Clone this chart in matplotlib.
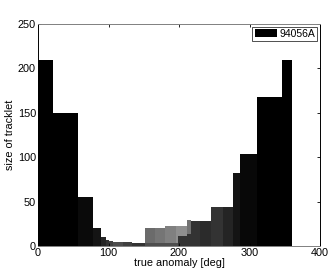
import matplotlib
matplotlib.use("Agg")
import matplotlib.pyplot as plt
from matplotlib.patches import Patch

plt.rcParams['font.family'] = ['Liberation Sans', 'DejaVu Sans']

# tracklet bars: left edge, right edge [deg], size, gray level
left = [0, 21, 57, 78, 90, 96, 101, 107, 120, 133, 152, 166, 180, 196, 211, 217, 230, 246, 262, 277, 287, 311, 346]
right = [21, 57, 78, 90, 96, 101, 107, 120, 133, 152, 166, 180, 196, 211, 217, 230, 246, 262, 277, 287, 311, 346, 360]
size = [210, 150, 55, 20, 10, 7, 5.5, 4.5, 4.5, 3, 20.5, 20.5, 23, 23, 29, 28.5, 28.5, 44, 44, 82.5, 104, 168, 210]
gray = [0.0, 0.0, 0.04, 0.08, 0.15, 0.2, 0.25, 0.3, 0.25, 0.2, 0.42, 0.46, 0.5, 0.56, 0.45, 0.2, 0.17, 0.2, 0.14, 0.08, 0.03, 0.0, 0.0]

# smaller tracklets drawn on top
ov_left = [152, 198, 211]
ov_right = [198, 211, 220]
ov_size = [3, 11, 14]
ov_gray = [0.3, 0.2, 0.2]

fig = plt.figure(figsize=(3.32, 2.74), dpi=100)
ax = fig.add_axes([38/332, 28/274, 282/332, 222/274])

w = [r - l for l, r in zip(left, right)]
ax.bar(left, size, width=w, align='edge', color=[str(g) for g in gray], linewidth=0)
ow = [r - l for l, r in zip(ov_left, ov_right)]
ax.bar(ov_left, ov_size, width=ow, align='edge', color=[str(g) for g in ov_gray], linewidth=0)

ax.set_xlim(0, 400)
ax.set_ylim(0, 250)
ax.set_xticks([0, 100, 200, 300, 400])
ax.set_yticks([0, 50, 100, 150, 200, 250])
ax.tick_params(direction='in', length=2.5, width=0.6, labelsize=7.8, pad=1.5,
               top=True, right=True)
for s in ['left', 'right']:
    ax.spines[s].set_color('black')
for s in ['top', 'bottom']:
    ax.spines[s].set_color('0.5')
for s in ax.spines.values():
    s.set_linewidth(0.7)

ax.set_xlabel('true anomaly [deg]', fontsize=7.8, labelpad=0)
ax.set_ylabel('size of tracklet', fontsize=7.8, labelpad=2)

leg = ax.legend([Patch(facecolor='black')], ['94056A'], loc='upper right',
                fontsize=7.5, frameon=True, fancybox=False, handlelength=2.2,
                handleheight=0.9, borderpad=0.2, borderaxespad=0.25,
                handletextpad=0.2)
leg.get_frame().set_edgecolor('black')
leg.get_frame().set_linewidth(0.6)

fig.savefig('out.png', dpi=100)
